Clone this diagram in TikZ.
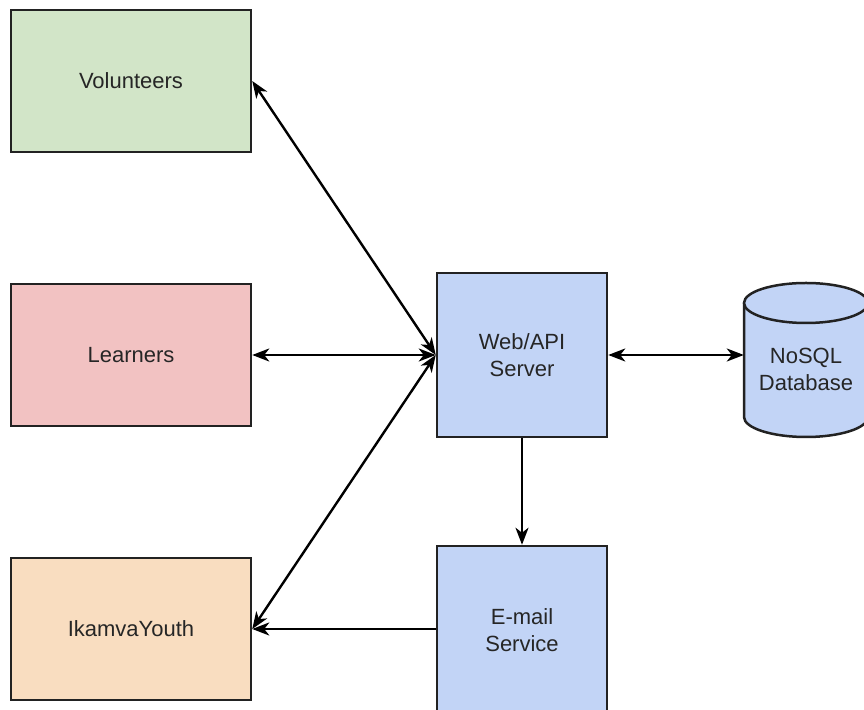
\documentclass[tikz,border=0pt]{standalone}
\usepackage{fontspec}
\setmainfont{Liberation Sans}
\usetikzlibrary{arrows.meta}
\definecolor{vgreen}{HTML}{D2E5C8}
\definecolor{lpink}{HTML}{F2C2C2}
\definecolor{iorange}{HTML}{F9DDC0}
\definecolor{sblue}{HTML}{C2D4F6}
\definecolor{edgec}{HTML}{222222}
\begin{document}
\begin{tikzpicture}[x=1pt,y=1pt,
  box/.style={draw=edgec, line width=2.5pt, inner sep=0pt, align=center,
    font=\fontsize{22}{27}\selectfont, text=black!85},
  conn/.style={line width=2.4pt, draw=black},
  tip/.style={-{Stealth[length=17pt,width=13pt,inset=5pt]}},
  bitip/.style={{Stealth[length=17pt,width=13pt,inset=5pt]}-{Stealth[length=17pt,width=13pt,inset=5pt]}}
]
\useasboundingbox (0,0) rectangle (864,709);
\node[box, fill=vgreen, minimum width=240pt, minimum height=142pt] (vol) at (131,628) {Volunteers};
\node[box, fill=lpink, minimum width=240pt, minimum height=142pt] (lea) at (131,354) {Learners};
\node[box, fill=iorange, minimum width=240pt, minimum height=142pt] (ika) at (131,80) {IkamvaYouth};
\node[box, fill=sblue, minimum width=170pt, minimum height=164pt] (web) at (522,354) {Web/API\\Server};
\node[box, fill=sblue, minimum width=170pt, minimum height=168pt] (mail) at (522,79) {E-mail\\Service};
% cylinder
\node[inner sep=0pt, minimum width=124pt, minimum height=154pt] (db) at (806,349) {};
\filldraw[fill=sblue, draw=edgec, line width=2.5pt]
  (744,406) -- (744,292) arc[start angle=180, end angle=360, x radius=62, y radius=20] -- (868,406);
\filldraw[fill=sblue, draw=edgec, line width=2.5pt] (806,406) ellipse[x radius=62, y radius=20];
\node[font=\fontsize{22}{27}\selectfont, text=black!85, align=center] (dbtext) at (806,340) {NoSQL\\Database};
% connectors
\draw[conn, bitip] (vol.east) -- (web.west);
\draw[conn, bitip] (lea.east) -- (web.west);
\draw[conn, bitip] (ika.east) -- (web.west);
\draw[conn, bitip] (web.east) -- (web.east -| db.west);
\draw[conn, tip] (web.south) -- (mail.north);
\draw[conn, tip] (mail.west |- ika.east) -- (ika.east);
\end{tikzpicture}
\end{document}
